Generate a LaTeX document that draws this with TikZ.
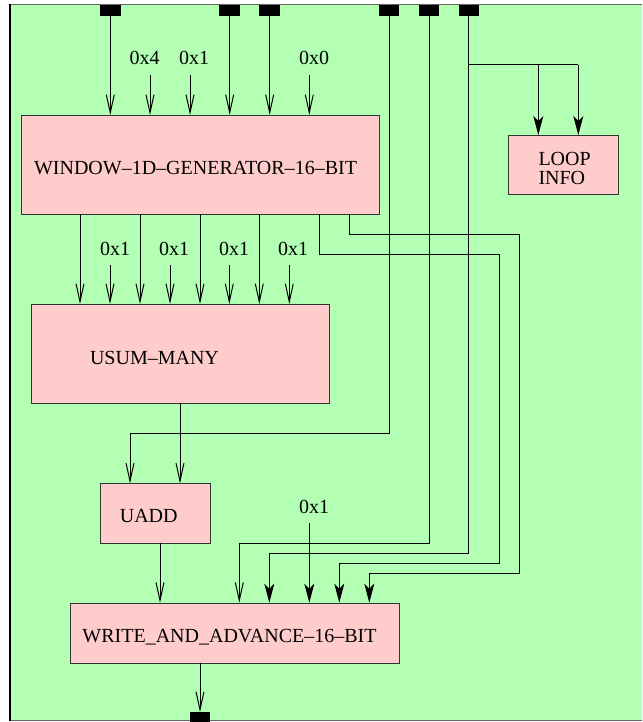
\documentclass[tikz,border=0pt]{standalone}
\usepackage{fontspec}
\setmainfont{Liberation Serif}
\usetikzlibrary{arrows.meta}
\definecolor{bggreen}{RGB}{179,255,179}
\definecolor{boxpink}{RGB}{255,204,204}
\begin{document}
\begin{tikzpicture}[x=1pt,y=-1pt,
  box/.style={draw=black!80, line width=1pt, fill=boxpink, inner sep=0pt, anchor=north west},
  lbl/.style={font=\fontsize{20}{20}\selectfont, inner sep=0pt, anchor=base},
  port/.style={fill=black, inner sep=0pt, minimum width=20.5pt, minimum height=10.7pt},
  wire/.style={line width=1pt, black},
  oarr/.style={wire, -{Straight Barb[length=18pt,width=8pt]}},
  farr/.style={wire, -{Stealth[length=19pt,width=10pt,inset=5pt]}},
]
\useasboundingbox (0,0) rectangle (642,722);
\clip (0,0) rectangle (642,722);
% frame
\fill[bggreen] (10,5) rectangle (660,720.7);
\draw[black!60, line width=1pt] (10,5) -- (660,5);
\draw[black!60, line width=1pt] (10,720.7) -- (660,720.7);
\draw[black, line width=2pt] (10,4.5) -- (10,721.2);

% boxes
\node[box, minimum width=358.6pt, minimum height=99pt] (win) at (20.7,115) {};
\node[box, minimum width=298.6pt, minimum height=99.3pt] (usum) at (30.7,304) {};
\node[box, minimum width=110pt, minimum height=60pt] (uadd) at (100,483.3) {};
\node[box, minimum width=329.3pt, minimum height=60pt] (wr) at (70,602.7) {};
\node[box, minimum width=110pt, minimum height=59.3pt] (loop) at (508.3,135) {};

% box texts
\node[lbl] (winT) at (195.5,175) {WINDOW--1D--GENERATOR--16--BIT};
\node[lbl] (usumT) at (154.5,364) {USUM--MANY};
\node[lbl] (uaddT) at (148.7,522.7) {UADD};
\node[lbl] (wrT) at (229.5,642.7) {WRITE\_AND\_ADVANCE--16--BIT};
\node[lbl, anchor=base west] (loopT1) at (538.3,165.7) {LOOP};
\node[lbl, anchor=base west] (loopT2) at (538.3,184.3) {INFO};

% ports
\node[port] (p1) at (110.3,10.35) {};
\node[port] (p2) at (229.7,10.35) {};
\node[port] (p3) at (269.7,10.35) {};
\node[port] (p4) at (389,10.35) {};
\node[port] (p5) at (429,10.35) {};
\node[port] (p6) at (468.8,10.35) {};
\node[port] (pout) at (200,717.6) {};

% constants into window
\node[lbl] (c1) at (144.7,65) {0x4};
\node[lbl] (c2) at (194,65) {0x1};
\node[lbl] (c3) at (314,65) {0x0};
\coordinate (k1) at (150,75);
\coordinate (k2) at (190,75);
\coordinate (k3) at (309.3,75);
\draw[oarr] (p1.south) -- (p1.south |- win.north);
\draw[oarr] (k1) -- (k1 |- win.north);
\draw[oarr] (k2) -- (k2 |- win.north);
\draw[oarr] (p2.south) -- (p2.south |- win.north);
\draw[oarr] (p3.south) -- (p3.south |- win.north);
\draw[oarr] (k3) -- (k3 |- win.north);

% window outputs into usum
\coordinate (wo1) at (80,214);
\coordinate (wo2) at (140,214);
\coordinate (wo3) at (200,214);
\coordinate (wo4) at (259.3,214);
\coordinate (wo5) at (319.3,214);
\coordinate (wo6) at (349.3,214);
\foreach \w in {wo1,wo2,wo3,wo4} \draw[oarr] (\w) -- (\w |- usum.north);

% constants into usum
\node[lbl] (u1) at (115,255) {0x1};
\node[lbl] (u2) at (174,255) {0x1};
\node[lbl] (u3) at (234,255) {0x1};
\node[lbl] (u4) at (293,255) {0x1};
\coordinate (ku1) at (110,265);
\coordinate (ku2) at (170,265);
\coordinate (ku3) at (229.3,265);
\coordinate (ku4) at (289.3,265);
\foreach \k in {ku1,ku2,ku3,ku4} \draw[oarr] (\k) -- (\k |- usum.north);

% usum -> uadd, port4 -> uadd
\coordinate (uo) at (180,403.3);
\coordinate (wu1) at (130,433.3);
\draw[oarr] (uo) -- (uo |- uadd.north);
\draw[oarr] (p4.south) |- (wu1) -- (wu1 |- uadd.north);

% loop info
\coordinate (br) at (468.8,65);
\coordinate (lb1) at (538.3,65);
\coordinate (lb2) at (578.3,65);
\draw[wire] (br) -- (lb2);
\draw[farr] (lb1) -- (lb1 |- loop.north);
\draw[farr] (lb2) -- (lb2 |- loop.north);

% into write
\coordinate (ao) at (160,543.3);
\coordinate (wi3) at (239.3,543.3);
\coordinate (wi4) at (269.3,553.3);
\coordinate (wi5) at (339.3,563.3);
\coordinate (wi6) at (369.3,573.3);
\draw[oarr] (ao) -- (ao |- wr.north);
\draw[oarr] (p5.south) |- (wi3) -- (wi3 |- wr.north);
\draw[farr] (p6.south) |- (wi4) -- (wi4 |- wr.north);
\draw[farr] (wo5) |- (499,254.3) |- (wi5) -- (wi5 |- wr.north);
\draw[farr] (wo6) |- (519,234.3) |- (wi6) -- (wi6 |- wr.north);
\node[lbl] (cw) at (314,513.3) {0x1};
\coordinate (kw) at (309.3,523.3);
\draw[farr] (kw) -- (kw |- wr.north);

% write -> output port
\coordinate (wro) at (200,662.7);
\draw[oarr] (wro) -- (wro |- pout.north);
\end{tikzpicture}
\end{document}
